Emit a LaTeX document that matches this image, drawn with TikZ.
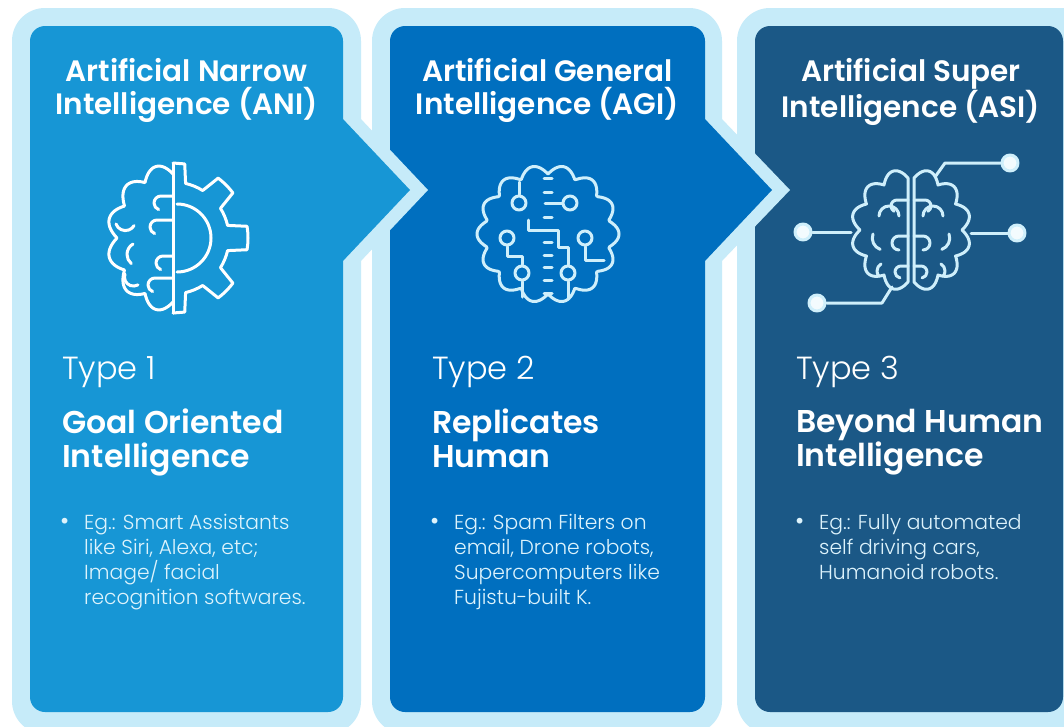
\documentclass[tikz,border=0pt]{standalone}
\usepackage{fontspec}
\setmainfont{Poppins}
\IfFontExistsTF{Poppins Light}{\newfontfamily\lightfont{Poppins Light}}{\newfontfamily\lightfont{Poppins}}
\IfFontExistsTF{Poppins SemiBold}{\newfontfamily\semifont{Poppins SemiBold}}{\newcommand\semifont{\bfseries}}
\usetikzlibrary{positioning}

\definecolor{panelrim}{HTML}{C6EBF9}
\definecolor{aniblue}{HTML}{1796D5}
\definecolor{agiblue}{HTML}{006FBF}
\definecolor{asiblue}{HTML}{1B5886}
\definecolor{iconline}{HTML}{CFEFFB}
\definecolor{listtext}{HTML}{DDF3FC}

\newcommand\listdot{\llap{{\fontsize{25}{25}\selectfont\textbullet}\hspace{15pt}}}

\begin{document}
\begin{tikzpicture}[x=1pt,y=1pt,
    title/.style={text=white, align=center, inner sep=0pt, anchor=north,
        font=\semifont\fontsize{29.5}{33}\selectfont},
    typelabel/.style={text=white, inner sep=0pt, anchor=base west,
        font=\lightfont\fontsize{32}{38}\selectfont},
    heading/.style={text=white, align=left, inner sep=0pt, anchor=north west,
        font=\semifont\fontsize{31.5}{34}\selectfont},
    examples/.style={text=listtext, align=left, inner sep=0pt, anchor=north west,
        font=\lightfont\fontsize{20.3}{25}\selectfont},
    icon/.style={line width=3pt, line cap=round, line join=round},
    chip/.style={circle, draw=iconline, line width=3pt, inner sep=0pt, minimum size=14pt},
    endpoint/.style={circle, draw=iconline, fill=white!75!iconline, line width=3pt,
        inner sep=0pt, minimum size=16pt}]

\useasboundingbox (0,0) rectangle (1064,-726);
\clip (0,0) rectangle (1064,-726);
\fill[white] (0,0) rectangle (1064,-726);

% panels, right one first
\fill[panelrim, rounded corners=33pt] (737,-8) rectangle (1095,-734);
\fill[asiblue, rounded corners=15pt] (755,-26) rectangle (1063,-712);

\fill[panelrim, rounded corners=33pt] (372,-8) rectangle (722,-734);
\fill[panelrim] (721,-118) -- (790,-190) -- (721,-262) -- cycle;
\fill[agiblue, rounded corners=15pt] (390,-26) rectangle (705,-712);
\fill[agiblue] (704,-118) -- (772,-190) -- (704,-262) -- cycle;

\fill[panelrim, rounded corners=33pt] (12,-8) rectangle (361,-734);
\fill[panelrim] (360,-118) -- (428,-190) -- (360,-262) -- cycle;
\fill[aniblue, rounded corners=15pt] (30,-26) rectangle (343,-712);
\fill[aniblue] (342,-118) -- (410,-190) -- (342,-262) -- cycle;

% titles
\node[title] (aniTitle) at (186.5,-58) {Artificial Narrow\\Intelligence (ANI)};
\node[title] (agiTitle) at (547.5,-58) {Artificial General\\Intelligence (AGI)};
\node[title] (asiTitle) at (911,-58) {Artificial Super\\Intelligence (ASI)};

% ANI icon: half brain, half gear
\begin{scope}[shift={(173,-238)}, icon, draw=white]
  \draw (0,74) -- (0,-75);
  \draw (90:75) -- (81:75) -- (77:56) arc[start angle=77, end angle=58, radius=56]
    -- (53:75) arc[start angle=53, end angle=37, radius=75] -- (32:56)
    arc[start angle=32, end angle=13, radius=56] -- (9:75)
    arc[start angle=9, end angle=-9, radius=75] -- (-13:56)
    arc[start angle=-13, end angle=-32, radius=56] -- (-37:75)
    arc[start angle=-37, end angle=-53, radius=75] -- (-58:56)
    arc[start angle=-58, end angle=-77, radius=56] -- (-81:75) -- (-90:75);
  \draw (4,34) arc[start angle=90, end angle=-90, radius=34];
  \draw plot[domain=0:180, samples=121]
    ({-(56+10*abs(sin(6*\x)))*sin(\x)}, {(64+10*abs(sin(6*\x)))*cos(\x)});
  \foreach \y/\l in {42/12, 18/16, -18/10, -40/18}
    \draw (0,\y) -- (-\l,\y) arc[start angle=90, end angle=250, radius=7];
  \draw (-57,14) arc[start angle=200, end angle=330, radius=10];
  \draw (-40,-6) arc[start angle=120, end angle=230, radius=12];
  \draw (-48,-36) arc[start angle=160, end angle=300, radius=9];
\end{scope}

% AGI icon: brain with circuits
\begin{scope}[shift={(548,-234)}, icon, draw=iconline]
  \draw plot[domain=0:360, samples=241]
    ({(62+9*abs(sin(7*\x)))*sin(\x)}, {(60+9*abs(sin(7*\x)))*cos(\x)}) -- cycle;
  \foreach \y in {56,42,17,-8,-21,-33,-46,-59}
    \draw (-4,\y) -- (4,\y);
  \node[chip] (agiA) at (-29,31) {};
  \node[chip] (agiB) at (22,31) {};
  \node[chip] (agiC) at (-41,-4) {};
  \node[chip] (agiD) at (-26,-39) {};
  \node[chip] (agiE) at (37,-4) {};
  \node[chip] (agiF) at (20,-39) {};
  \coordinate (agiAtop) at (-29,52);
  \coordinate (agiBmid) at (-3,31);
  \coordinate (agiDbot) at (-26,-63);
  \coordinate (agiFbot) at (20,-65);
  \coordinate (agiEout) at (56,-26);
  \coordinate (agiZig) at (-20,14);
  \draw (agiA) -- (agiAtop);
  \draw (agiB) -- (agiBmid);
  \draw (agiC) -- (-41,-22) -- (-26,-22) -- (agiD);
  \draw (agiD) -- (agiDbot);
  \draw (agiE) -- (37,-26) -- (agiEout);
  \draw (agiF) -- (agiFbot);
  \draw (agiZig) -- (-20,4) -- (10,4) -- (10,-13) -- (20,-13) -- (agiF);
\end{scope}

% ASI icon: split brain with outlets
\begin{scope}[shift={(911,-230)}, icon, draw=iconline]
  \foreach \s in {-1,1}{
    \begin{scope}[xscale=\s]
      \draw plot[domain=0:180, samples=121]
        ({3+(48+9*abs(sin(6*\x)))*sin(\x)}, {(52+9*abs(sin(6*\x)))*cos(\x)}) -- cycle;
      \draw (12,14) arc[start angle=180, end angle=0, radius=10];
      \draw (3,30) -- (14,30) arc[start angle=90, end angle=-60, radius=6];
      \draw (3,-6) -- (12,-6) arc[start angle=90, end angle=-90, radius=7];
      \draw (3,-36) -- (10,-36) arc[start angle=90, end angle=-80, radius=6];
      \draw (38,-4) arc[start angle=20, end angle=-70, radius=12];
      \draw (30,-34) arc[start angle=60, end angle=-40, radius=8];
    \end{scope}
  }
  \node[endpoint] (asiL) at (-108,-2) {};
  \node[endpoint] (asiR) at (106,-3) {};
  \node[endpoint] (asiTR) at (99,67) {};
  \node[endpoint] (asiBL) at (-94,-73) {};
  \coordinate (lobeL) at (-60,-2);
  \coordinate (lobeR) at (60,-3);
  \coordinate (lobeT) at (24,53);
  \coordinate (lobeB) at (-19,-57);
  \draw (lobeL) -- (asiL);
  \draw (lobeR) -- (asiR);
  \draw (lobeT) -- (34,67) -- (asiTR);
  \draw (lobeB) -- (-29,-73) -- (asiBL);
\end{scope}

% type labels
\node[typelabel] (aniType) at (62,-379) {Type 1};
\node[typelabel] (agiType) at (432,-379) {Type 2};
\node[typelabel] (asiType) at (796,-379) {Type 3};

\node[heading] (aniHead) at (62,-409) {Goal Oriented\\Intelligence};
\node[heading] (agiHead) at (432,-409) {Replicates\\Human};
\node[heading] (asiHead) at (796,-409) {Beyond Human\\Intelligence};

% examples
\node[examples] (aniList) at (84,-514)
  {\listdot Eg.: Smart Assistants\\like Siri, Alexa, etc;\\Image/ facial\\recognition softwares.};
\node[examples] (agiList) at (454,-514)
  {\listdot Eg.: Spam Filters on\\email, Drone robots,\\Supercomputers like\\Fujistu-built K.};
\node[examples] (asiList) at (819,-514)
  {\listdot Eg.: Fully automated\\self driving cars,\\Humanoid robots.};
\end{tikzpicture}
\end{document}
